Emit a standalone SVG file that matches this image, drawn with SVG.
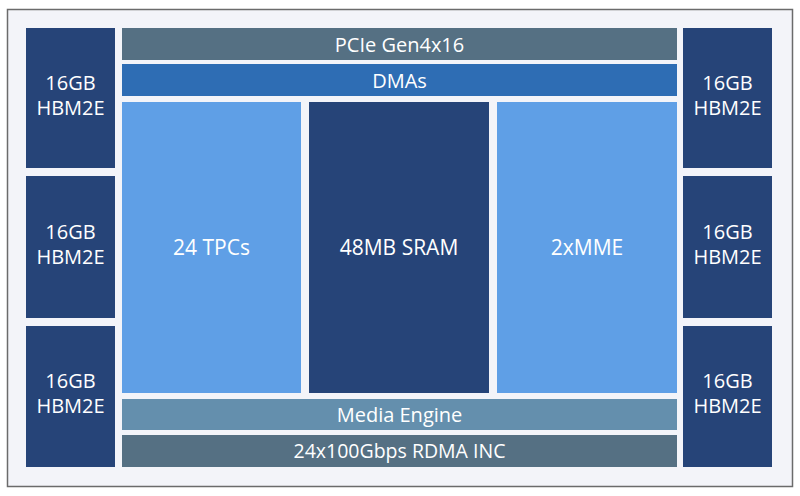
<svg xmlns="http://www.w3.org/2000/svg" width="800" height="496" viewBox="0 0 800 496">
<style>
text{font-family:"Open Sans","Noto Sans",sans-serif;fill:#ffffff;text-anchor:middle}
.t{font-size:20px}
.r{font-size:19.5px}
.b{font-size:21px}
.hbm{fill:#264478}
</style>
<rect x="0" y="0" width="800" height="496" fill="#ffffff"/>
<rect x="7.5" y="9.5" width="785" height="477" fill="#f3f4f9" stroke="#6b6b6b" stroke-width="1.5"/>
<g id="hbm-l1"><rect class="hbm" x="26" y="28" width="89" height="140"/><text class="t" x="70.5" y="90">16GB</text><text class="t" x="70.5" y="115">HBM2E</text></g>
<g id="hbm-l2"><rect class="hbm" x="26" y="176" width="89" height="142"/><text class="t" x="70.5" y="239">16GB</text><text class="t" x="70.5" y="264">HBM2E</text></g>
<g id="hbm-l3"><rect class="hbm" x="26" y="326" width="89" height="141"/><text class="t" x="70.5" y="388">16GB</text><text class="t" x="70.5" y="413">HBM2E</text></g>
<g id="hbm-r1"><rect class="hbm" x="683" y="28" width="89" height="140"/><text class="t" x="727.5" y="90">16GB</text><text class="t" x="727.5" y="115">HBM2E</text></g>
<g id="hbm-r2"><rect class="hbm" x="683" y="176" width="89" height="142"/><text class="t" x="727.5" y="239">16GB</text><text class="t" x="727.5" y="264">HBM2E</text></g>
<g id="hbm-r3"><rect class="hbm" x="683" y="326" width="89" height="141"/><text class="t" x="727.5" y="388">16GB</text><text class="t" x="727.5" y="413">HBM2E</text></g>
<g id="pcie"><rect x="122" y="28" width="555" height="32" fill="#557083"/><text class="t" x="399.5" y="51.5">PCIe Gen4x16</text></g>
<g id="dmas"><rect x="122" y="64" width="555" height="32" fill="#2e6db4"/><text class="t" x="399.5" y="87.5">DMAs</text></g>
<g id="tpc"><rect x="122" y="102" width="179" height="291" fill="#5f9fe6"/><text class="b" x="211.5" y="255">24 TPCs</text></g>
<g id="sram"><rect x="309" y="102" width="180" height="291" fill="#264478"/><text class="b" x="399" y="255">48MB SRAM</text></g>
<g id="mme"><rect x="497" y="102" width="180" height="291" fill="#5f9fe6"/><text class="b" x="587" y="255">2xMME</text></g>
<g id="media"><rect x="122" y="399" width="555" height="31" fill="#648fad"/><text class="t" x="399.5" y="421.5">Media Engine</text></g>
<g id="rdma"><rect x="122" y="435" width="555" height="32" fill="#557083"/><text class="r" x="399.5" y="458">24x100Gbps RDMA INC</text></g>
<g id="connectors"/>
</svg>
